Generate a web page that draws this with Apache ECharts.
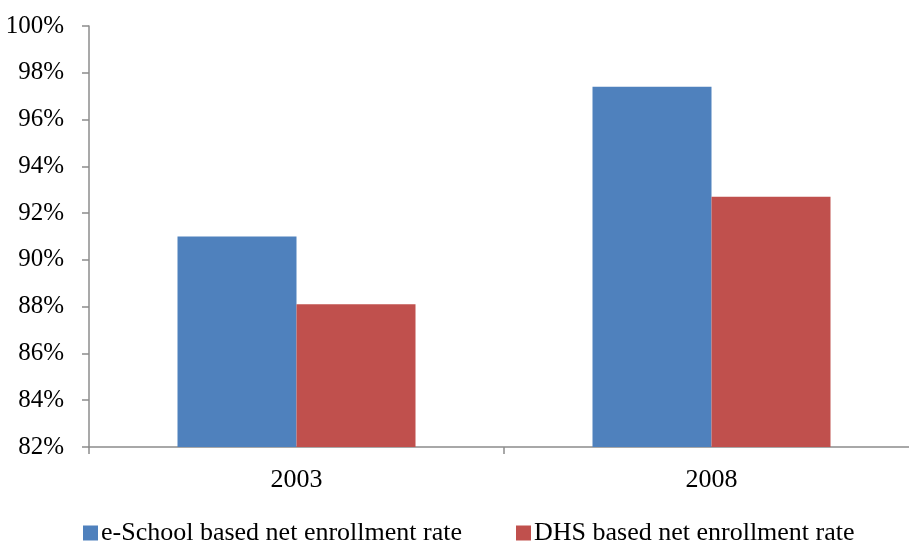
<!DOCTYPE html>
<html>
<head>
<meta charset="utf-8">
<script src="https://cdn.jsdelivr.net/npm/echarts@6/dist/echarts.min.js"></script>
<style>
  html, body { margin: 0; padding: 0; background: #fff; overflow: hidden; }
  #wrap { width: 909px; height: 544px; overflow: hidden; }
  /* the plot runs a little past the right edge, so the canvas is wider than the view */
  #chart { width: 930px; height: 544px; }
</style>
</head>
<body>
<div id="wrap"><div id="chart"></div></div>
<script>
// Net enrollment rates by survey year (percent)
const years = ['2003', '2008'];
const eSchoolRate = [91.0, 97.4];
const dhsRate = [88.1, 92.7];
const seriesNames = ['e-School based net enrollment rate', 'DHS based net enrollment rate'];

const FONT = '"Liberation Serif", "Times New Roman", serif';
const AXIS_GRAY = '#8c8c8c';

const chart = echarts.init(document.getElementById('chart'));
chart.setOption({
  animation: false,
  backgroundColor: '#ffffff',
  grid: { left: 89, top: 26, right: 11, bottom: 97, containLabel: false },
  legend: {
    left: 78,
    top: 515,
    itemWidth: 15,
    itemHeight: 15,
    itemGap: 54,
    icon: 'rect',
    textStyle: { fontFamily: FONT, fontSize: 26, color: '#000', padding: [0, 0, 0, -2] },
    data: seriesNames
  },
  xAxis: {
    type: 'category',
    data: years,
    axisLine: { lineStyle: { color: AXIS_GRAY, width: 1.5 } },
    axisTick: { show: true, length: 7, lineStyle: { color: AXIS_GRAY, width: 1.5 } },
    axisLabel: { fontFamily: FONT, fontSize: 26, color: '#000', margin: 20 }
  },
  yAxis: {
    type: 'value',
    min: 82,
    max: 100,
    interval: 2,
    axisLine: { show: true, lineStyle: { color: AXIS_GRAY, width: 1.5 } },
    axisTick: { show: true, length: 7, lineStyle: { color: AXIS_GRAY, width: 1.5 } },
    splitLine: { show: false },
    axisLabel: {
      fontFamily: FONT, fontSize: 25, color: '#000', margin: 25,
      formatter: v => v + '%'
    }
  },
  series: [
    {
      name: seriesNames[0],
      type: 'bar',
      data: eSchoolRate,
      barWidth: 119,
      barGap: '0%',
      itemStyle: { color: '#4f81bd' }
    },
    {
      name: seriesNames[1],
      type: 'bar',
      data: dhsRate,
      barWidth: 119,
      barGap: '0%',
      itemStyle: { color: '#c0504d' }
    }
  ]
});
</script>
</body>
</html>
